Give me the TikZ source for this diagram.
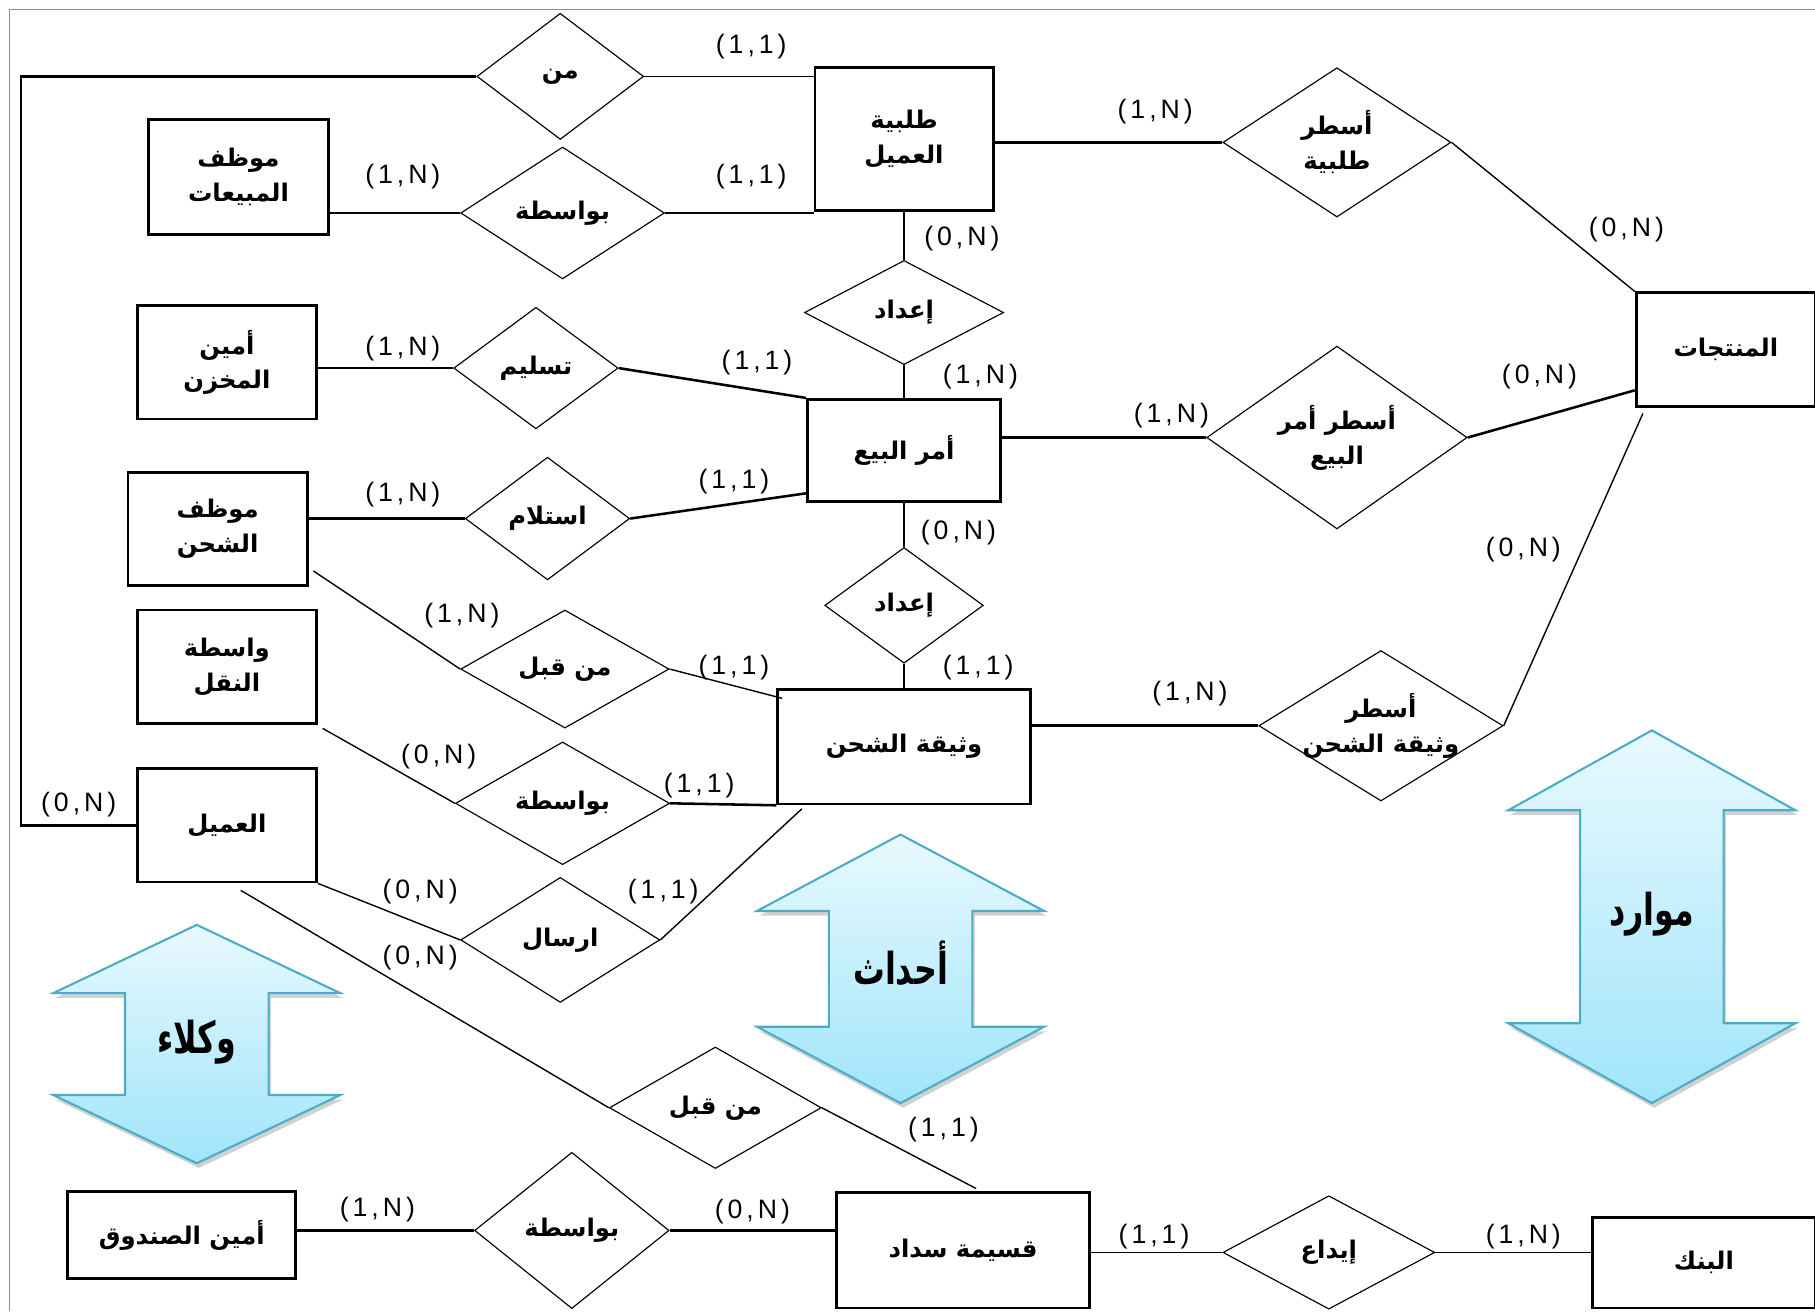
\documentclass[tikz,border=0pt]{standalone}
\usepackage{fontspec}
\usepackage{tikz}
\usetikzlibrary{shapes.geometric,shadows,calc}
\TeXXeTstate=1
\newfontfamily\arabicfont[Script=Arabic]{DejaVu Sans}
\newfontfamily\arabicnarrow[Script=Arabic,FakeStretch=0.72]{DejaVu Sans}
\newfontfamily\cardfont[LetterSpace=15]{Liberation Sans}
\newcommand{\ar}[1]{\beginR #1\endR}
\definecolor{arrbd}{RGB}{75,172,198}
\definecolor{arrtop}{RGB}{232,249,254}
\definecolor{arrbot}{RGB}{160,229,250}
% double arrow: centre x, top y, bottom y, head height
\newcommand{\dblarr}[4]{%
  \draw[blk] (#1,#2) -- (#1+124,#2+#4) -- (#1+62,#2+#4) -- (#1+62,#3-#4)
    -- (#1+124,#3-#4) -- (#1,#3) -- (#1-124,#3-#4) -- (#1-62,#3-#4)
    -- (#1-62,#2+#4) -- (#1-124,#2+#4) -- cycle;}
\begin{document}
\begin{tikzpicture}[x=0.5pt,y=-0.5pt,
  ent/.style 2 args={draw, line width=1.2pt, minimum width=#1*0.5pt, minimum height=#2*0.5pt,
    inner sep=0pt, align=center, font=\arabicfont\bfseries\fontsize{10.5}{15}\selectfont},
  rel/.style 2 args={diamond, draw, line width=0.5pt, minimum width=#1*0.5pt, minimum height=#2*0.5pt,
    inner sep=0pt, align=center, font=\arabicfont\bfseries\fontsize{10.5}{15}\selectfont},
  reltxt/.style={inner sep=0pt, align=center, font=\arabicfont\bfseries\fontsize{10.5}{15}\selectfont},
  card/.style={font=\cardfont\fontsize{11.5}{12}\selectfont, inner sep=0pt},
  lnk/.style={line width=0.6pt},
  lnkb/.style={line width=1.1pt},
  blk/.style={draw=arrbd, line width=0.9pt, top color=arrtop, bottom color=arrbot,
    drop shadow={shadow xshift=1pt, shadow yshift=-2pt, opacity=0.3, fill=black!60}},
  big/.style={font=\arabicnarrow\bfseries\fontsize{19}{23}\selectfont}]
\useasboundingbox (0,0) rectangle (1568,1133);
\draw[black!45, line width=0.5pt] (1568,8) -- (8,8) -- (8,1133);

% categories
\dblarr{170}{799}{1005}{59}
\dblarr{778}{721}{953}{66}
\dblarr{1427}{631}{953}{69}
\node[big] (wkl) at (170,900) {\ar{وكلاء}};
\node[big] (ahd) at (778,832) {\ar{أحداث}};
\node[big] (mwr) at (1427,790) {\ar{موارد}};

% entities
\node[ent={154}{124}] (tal) at (781,120) {\ar{طلبية}\\\ar{العميل}};
\node[ent={156}{99}] (mmb) at (206,153) {\ar{موظف}\\\ar{المبيعات}};
\node[ent={155}{98}] (amk) at (196,313) {\ar{أمين}\\\ar{المخزن}};
\node[ent={167}{88}] (amr) at (781,389) {\ar{أمر البيع}};
\node[ent={155}{98}] (msh) at (188,457) {\ar{موظف}\\\ar{الشحن}};
\node[ent={155}{98}] (wnq) at (196,576) {\ar{واسطة}\\\ar{النقل}};
\node[ent={155}{98}] (aml) at (196,713) {\ar{العميل}};
\node[ent={218}{99}] (wth) at (781,645) {\ar{وثيقة الشحن}};
\node[ent={155}{98}] (mnt) at (1491,302) {\ar{المنتجات}};
\node[ent={197}{75}] (amsq) at (157,1067) {\ar{أمين الصندوق}};
\node[ent={219}{100}] (qsm) at (832,1080) {\ar{قسيمة سداد}};
\node[ent={193}{78}] (bnk) at (1472,1091) {\ar{البنك}};

% relationships
\node[rel={144}{109}] (mn) at (484,66) {\ar{من}};
\node[rel={176}{114}] (bw1) at (486,184) {\ar{بواسطة}};
\node[rel={197}{129}] (ast) at (1155,123) {\ar{أسطر}\\\ar{طلبية}};
\node[rel={172}{90}] (ie1) at (781,270) {\ar{إعداد}};
\node[rel={142}{105}] (tsl) at (463,318) {\ar{تسليم}};
\node[rel={225}{113}] (asa) at (1155,378) {\ar{أسطر أمر}\\\ar{البيع}};
\node[rel={142}{106}] (stl) at (473,448) {\ar{استلام}};
\node[rel={137}{100}] (ie2) at (781,523) {\ar{إعداد}};
\node[rel={180}{102}] (mq1) at (488,578) {\ar{من قبل}};
\node[rel={211}{130}] (asw) at (1193,627) {};
\node[reltxt] (aswt) at (asw) {\ar{أسطر}\\\ar{وثيقة الشحن}};
\node[rel={185}{106}] (bw2) at (486,694) {\ar{بواسطة}};
\node[rel={172}{108}] (irs) at (484,812) {\ar{ارسال}};
\node[rel={183}{105}] (mq2) at (618,957) {\ar{من قبل}};
\node[rel={168}{135}] (bw3) at (494,1063) {\ar{بواسطة}};
\node[rel={183}{98}] (ida) at (1148,1082) {\ar{إيداع}};

% connectors
\coordinate (lft) at (18,713);
\draw[lnkb] (mn.west) -| (lft) -- (aml.west);
\draw[lnk] (mn.east) -- (mn.east -| tal.west);
\draw[lnkb] (bw1.west) -- (bw1.west -| mmb.east);
\draw[lnk] (bw1.east) -- (bw1.east -| tal.west);
\draw[lnkb] (tal.east |- ast.west) -- (ast.west);
\draw[lnk] (ast.east) -- (mnt.north west);
\draw[lnk] (tal.south) -- (ie1.north);
\draw[lnk] (ie1.south) -- (amr.north);
\draw[lnkb] (tsl.west) -- (tsl.west -| amk.east);
\draw[lnkb] (tsl.east) -- (amr.north west);
\draw[lnkb] (amr.east |- asa.west) -- (asa.west);
\draw[lnkb] (asa.east) -- ($(mnt.south west)+(0,-15)$);
\draw[lnkb] (stl.west) -- (stl.west -| msh.east);
\draw[lnkb] (stl.east) -- ($(amr.south west)+(0,-8)$);
\draw[lnk] (amr.south) -- (ie2.north);
\draw[lnk] (ie2.south) -- (wth.north);
\draw[lnk] ($(msh.south east)+(4,-14)$) -- (mq1.west);
\draw[lnk] (mq1.east) -- ($(wth.north west)+(5,9)$);
\draw[lnk] ($(wnq.south east)+(4,3)$) -- (bw2.west);
\draw[lnkb] (bw2.east) -- (wth.south west);
\draw[lnkb] (wth.east |- asw.west) -- (asw.west);
\draw[lnk] (asw.east) -- ($(mnt.south west)+(7,5)$);
\draw[lnk] (aml.south east) -- (irs.west);
\draw[lnk] (irs.east) -- ($(wth.south west)+(22,3)$);
\draw[lnk] ($(aml.south)+(12,6)$) -- (mq2.west);
\draw[lnk] (mq2.east) -- ($(qsm.north west)+(122,-2)$);
\draw[lnkb] (bw3.west) -- (bw3.west -| amsq.east);
\draw[lnkb] (bw3.east) -- (bw3.east -| qsm.west);
\draw[lnk] (qsm.east |- ida.west) -- (ida.west);
\draw[lnk] (ida.east) -- (ida.east -| bnk.west);

% cardinalities
\foreach \x/\y/\t [count=\i] in {649/40/{(1,1)}, 348/153/{(1,N)}, 649/153/{(1,1)},
    998/96/{(1,N)}, 1405/198/{(0,N)}, 831/206/{(0,N)}, 847/325/{(1,N)},
    348/301/{(1,N)}, 654/313/{(1,1)}, 1012/359/{(1,N)}, 1330/325/{(0,N)},
    348/427/{(1,N)}, 634/416/{(1,1)}, 828/460/{(0,N)}, 845/577/{(1,1)},
    399/532/{(1,N)}, 634/577/{(1,1)}, 379/654/{(0,N)}, 604/679/{(1,1)},
    1028/599/{(1,N)}, 1316/475/{(0,N)}, 363/770/{(0,N)}, 573/770/{(1,1)},
    363/827/{(0,N)}, 815/976/{(1,1)}, 326/1045/{(1,N)}, 650/1047/{(0,N)},
    997/1068/{(1,1)}, 1316/1068/{(1,N)}, 68/695/{(0,N)}}
  \node[card] (c\i) at (\x,\y) {\t};
\end{tikzpicture}
\end{document}
